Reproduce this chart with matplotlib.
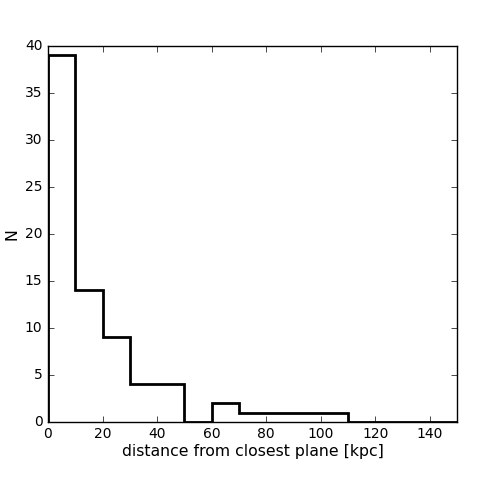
import matplotlib
matplotlib.use('Agg')
import matplotlib.pyplot as plt
import numpy as np

bin_edges = [0, 10, 20, 30, 40, 50, 60, 70, 80, 90, 100, 110, 120, 130, 140, 150]
counts = [39, 14, 9, 4, 4, 0, 2, 1, 1, 1, 1, 0, 0, 0, 0]

plt.style.use('classic')
fig = plt.figure(figsize=(4.8, 4.8), dpi=100, facecolor='w')
ax = fig.add_axes([0.1, 0.121, 0.852, 0.783])
ax.stairs(counts, bin_edges, baseline=0, color='k', linewidth=2)
ax.set_xlim(0, 150)
ax.set_ylim(0, 40)
ax.set_xticks(np.arange(0, 141, 20))
ax.set_yticks(np.arange(0, 41, 5))
ax.tick_params(labelsize=10)
ax.set_xlabel("distance from closest plane [kpc]", fontsize=11.3, labelpad=2)
ax.set_ylabel("N", fontsize=11.3, labelpad=4)
fig.savefig("out.png", dpi=100, facecolor='w')
